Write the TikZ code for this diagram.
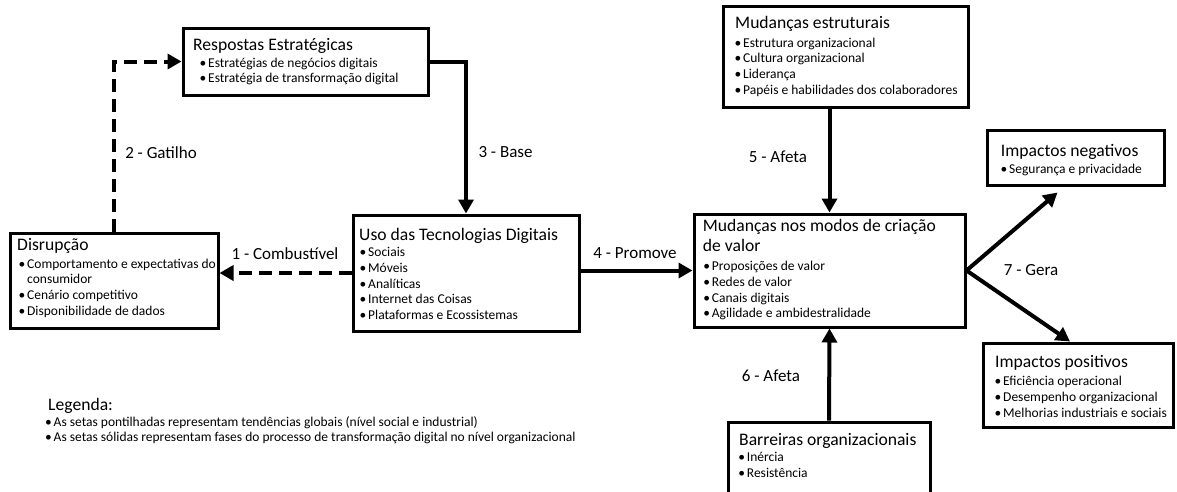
\documentclass[tikz,border=0pt]{standalone}
\usepackage{fontspec}
\setmainfont{Carlito}
\usetikzlibrary{arrows.meta}

\tikzset{
  box/.style={draw, line width=3pt, inner sep=0pt, outer sep=1.5pt, anchor=center},
  ttl/.style={anchor=base west, inner sep=0pt, font=\fontsize{17.6}{20.7}\selectfont},
  lst/.style={anchor=north west, inner sep=0pt, align=left, font=\fontsize{13.5}{15.7}\selectfont},
  lbl/.style={anchor=base, inner sep=0pt, font=\fontsize{17}{20.7}\selectfont},
  solidarr/.style={line width=4pt, -{Triangle[length=14pt,width=15pt]}},
  dasharr/.style={solidarr, dash pattern=on 13pt off 7pt},
}
\newcommand{\bl}{\strut\makebox[8.5pt][l]{\textbullet}}
\newcommand{\cont}{\strut\hspace*{8.5pt}}

\begin{document}
\begin{tikzpicture}[x=1pt,y=-1pt]
  \fill[white] (0,0) rectangle (1177,491);
  \useasboundingbox (0,0) rectangle (1177,491);

  % boxes
  \node[box, minimum width=208pt, minimum height=95pt]  (dis)   at (114,280.5) {};
  \node[box, minimum width=245pt, minimum height=67pt]  (resp)  at (305.5,61.5) {};
  \node[box, minimum width=226pt, minimum height=116pt] (uso)   at (466,273) {};
  \node[box, minimum width=245pt, minimum height=101pt] (estr)  at (845.5,56.5) {};
  \node[box, minimum width=271pt, minimum height=113pt] (modos) at (829.5,270.5) {};
  \node[box, minimum width=177pt, minimum height=55pt]  (neg)   at (1075.5,157.5) {};
  \node[box, minimum width=190pt, minimum height=84pt]  (pos)   at (1078,385) {};
  \node[box, minimum width=202pt, minimum height=73pt]  (barr)  at (829,458.5) {};

  % titles
  \node[ttl] (disT)    at (17,250)      {Disrupção};
  \node[ttl] (respT)   at (193,50)      {Respostas Estratégicas};
  \node[ttl] (usoT)    at (359,240)     {Uso das Tecnologias Digitais};
  \node[ttl] (estrT)   at (735,28.3)    {Mudanças estruturais};
  \node[ttl] (modosTa) at (702.7,231)   {Mudanças nos modos de criação};
  \node[ttl] (modosTb) at (702.7,251.7) {de valor};
  \node[ttl] (negT)    at (1000.7,156.7){Impactos negativos};
  \node[ttl] (posT)    at (995,367.7)   {Impactos positivos};
  \node[ttl] (barrT)   at (739,445.7)   {Barreiras organizacionais};
  \node[ttl] (legT)    at (48,410)      {Legenda:};

  % bullet lists
  \node[lst] (disL) at (18.5,257.1) {%
    \bl Comportamento e expectativas do\\
    \cont consumidor\\
    \bl Cenário competitivo\\
    \bl Disponibilidade de dados};
  \node[lst] (respL) at (199.5,56.1) {%
    \bl Estratégias de negócios digitais\\
    \bl Estratégia de transformação digital};
  \node[lst] (usoL) at (359.5,245.5) {%
    \bl Sociais\\
    \bl Móveis\\
    \bl Analíticas\\
    \bl Internet das Coisas\\
    \bl Plataformas e Ecossistemas};
  \node[lst] (estrL) at (734.5,36.1) {%
    \bl Estrutura organizacional\\
    \bl Cultura organizacional\\
    \bl Liderança\\
    \bl Papéis e habilidades dos colaboradores};
  \node[lst] (modosL) at (703.2,259.5) {%
    \bl Proposições de valor\\
    \bl Redes de valor\\
    \bl Canais digitais\\
    \bl Agilidade e ambidestralidade};
  \node[lst] (negL) at (1000.5,162.8) {%
    \bl Segurança e privacidade};
  \node[lst] (posL) at (994.5,374.5) {%
    \bl Eficiência operacional\\
    \bl Desempenho organizacional\\
    \bl Melhorias industriais e sociais};
  \node[lst] (barrL) at (738.2,450.5) {%
    \bl Inércia\\
    \bl Resistência};
  \node[lst] (legL) at (45,414.8) {%
    \bl As setas pontilhadas representam tendências globais (nível social e industrial)\\
    \bl As setas sólidas representam fases do processo de transformação digital no nível organizacional};

  % connectors
  \draw[dasharr]  (dis.north) |- (resp.west);
  \draw[solidarr] (resp.east) -| (uso.north);
  \draw[dasharr]  (uso.west) -- (uso.west -| dis.east);
  \draw[solidarr] (uso.east |- modos.west) -- (modos.west);
  \draw[solidarr] (estr.south -| modos.north) -- (modos.north);
  \draw[solidarr] (barr.north) -- (modos.south);
  \draw[solidarr] (modos.east) -- ([xshift=-18pt,yshift=-6pt]neg.south);
  \draw[solidarr] (modos.east) -- ([xshift=-8pt]pos.north);

  % connector labels
  \node[lbl] (lab1) at (285,259)   {1 - Combustível};
  \node[lbl] (lab2) at (161,158)   {2 - Gatilho};
  \node[lbl] (lab3) at (505.5,157) {3 - Base};
  \node[lbl] (lab4) at (635,258)   {4 - Promove};
  \node[lbl] (lab5) at (778,162)   {5 - Afeta};
  \node[lbl] (lab6) at (771,381)   {6 - Afeta};
  \node[lbl] (lab7) at (1031,275)  {7 - Gera};
\end{tikzpicture}
\end{document}
